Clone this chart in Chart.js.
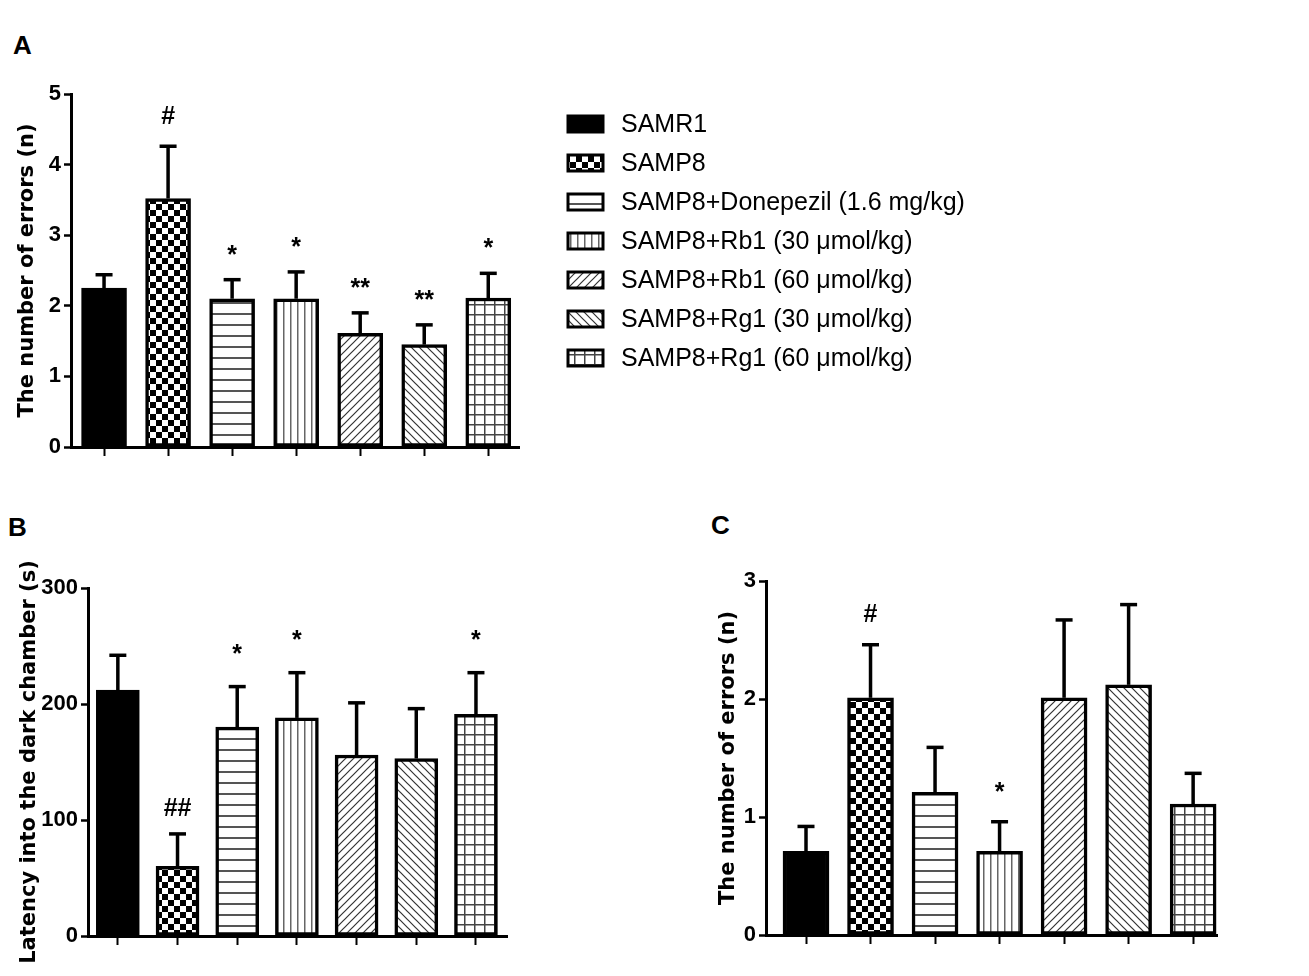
<!DOCTYPE html>
<html><head><meta charset="utf-8">
<script src="https://cdn.jsdelivr.net/npm/chart.js@4.4.0/dist/chart.umd.min.js"></script>
<style>
html,body{margin:0;padding:0;background:#fff;width:1309px;height:976px;overflow:hidden;}
canvas{position:absolute;}
.lbl{position:absolute;font:bold 26px "Liberation Sans",Arial,sans-serif;color:#000;line-height:26px;}
</style></head><body>
<div class="lbl" style="left:13px;top:32px">A</div>
<div class="lbl" style="left:8px;top:514px">B</div>
<div class="lbl" style="left:711px;top:512px">C</div>
<canvas id="cA" width="1000" height="480" style="left:0;top:0"></canvas>
<canvas id="cB" width="560" height="496" style="left:0;top:480px"></canvas>
<canvas id="cC" width="609" height="496" style="left:700px;top:480px"></canvas>
<script>
// ---- data ----
const groups = ['SAMR1','SAMP8','SAMP8+Donepezil (1.6 mg/kg)','SAMP8+Rb1 (30 μmol/kg)','SAMP8+Rb1 (60 μmol/kg)','SAMP8+Rg1 (30 μmol/kg)','SAMP8+Rg1 (60 μmol/kg)'];
const meansA = [2.25, 3.52, 2.10, 2.10, 1.61, 1.45, 2.11];
const semsA  = [0.19, 0.74, 0.27, 0.38, 0.29, 0.28, 0.35];
const marksA = ['', '#', '*', '*', '**', '**', '*'];
const ticksA = [0, 1, 2, 3, 4, 5];
const titleA = 'The number of errors (n)';

const meansB = [212, 60, 180, 188, 156, 153, 191];
const semsB  = [30, 28, 35, 39, 45, 43, 36];
const marksB = ['', '##', '*', '*', '', '', '*'];
const ticksB = [0, 100, 200, 300];
const titleB = 'Latency into the dark chamber (s)';

const meansC = [0.71, 2.01, 1.21, 0.71, 2.01, 2.12, 1.11];
const semsC  = [0.21, 0.45, 0.38, 0.25, 0.66, 0.68, 0.26];
const marksC = ['', '#', '', '*', '', '', ''];
const ticksC = [0, 1, 2, 3];
const titleC = 'The number of errors (n)';

// ---- tick font: condensed bold if available ----
const probe = document.createElement('canvas').getContext('2d');
probe.font = 'bold 25px "Liberation Sans Narrow", monospace';
const wNarrow = probe.measureText('300').width;
probe.font = 'bold 25px monospace';
const hasNarrow = Math.abs(wNarrow - probe.measureText('300').width) > 0.5;
const tickFont = hasNarrow
  ? { family: '"Liberation Sans Narrow", "Liberation Sans", Arial, sans-serif', weight: 'bold', size: 25 }
  : { family: '"Liberation Sans", Arial, sans-serif', weight: 'bold', size: 22 };

// ---- patterns ----
function makePattern(type){
  const c = document.createElement('canvas');
  let w = 10, h = 10;
  if (type === 'checker') { w = 12; h = 12; }
  if (type === 'h') { w = 10; h = 11; }
  if (type === 'v') { w = 7; h = 10; }
  if (type === 'f' || type === 'b') { w = 8; h = 8; }
  c.width = w; c.height = h;
  const g = c.getContext('2d');
  g.fillStyle = '#fff'; g.fillRect(0,0,w,h);
  g.fillStyle = '#000'; g.strokeStyle = '#333';
  if (type === 'checker') { g.fillRect(0,0,6,6); g.fillRect(6,6,6,6); }
  if (type === 'h') { g.fillStyle = '#555'; g.fillRect(0,5,w,2); }
  if (type === 'v') { g.fillStyle = '#666'; g.fillRect(3,0,1.5,h); }
  if (type === 'f') { g.lineWidth = 1.2; g.beginPath(); g.moveTo(0,8); g.lineTo(8,0); g.moveTo(-1,1); g.lineTo(1,-1); g.moveTo(7,9); g.lineTo(9,7); g.stroke(); }
  if (type === 'b') { g.lineWidth = 1.2; g.beginPath(); g.moveTo(0,0); g.lineTo(8,8); g.moveTo(-1,7); g.lineTo(1,9); g.moveTo(7,-1); g.lineTo(9,1); g.stroke(); }
  if (type === 'grid') { g.fillStyle = '#444'; g.fillRect(0,4,w,1.5); g.fillRect(4,0,1.5,h); }
  return g.createPattern(c, 'repeat');
}
const fills = ['#000', makePattern('checker'), makePattern('h'), makePattern('v'), makePattern('f'), makePattern('b'), makePattern('grid')];

// ---- plugins ----
const errPlugin = {
  id: 'errs',
  afterDatasetsDraw(chart, args, opts){
    const ctx = chart.ctx, ys = chart.scales.y, meta = chart.getDatasetMeta(0);
    ctx.save();
    ctx.strokeStyle = '#000'; ctx.lineWidth = 3.5; ctx.lineCap = 'butt';
    meta.data.forEach((bar, i) => {
      const yBar = ys.getPixelForValue(opts.means[i]);
      const yTop = ys.getPixelForValue(opts.means[i] + opts.sems[i]);
      ctx.beginPath(); ctx.moveTo(bar.x, yBar); ctx.lineTo(bar.x, yTop); ctx.stroke();
      ctx.beginPath(); ctx.moveTo(bar.x - 8.5, yTop); ctx.lineTo(bar.x + 8.5, yTop); ctx.stroke();
      const m = opts.marks[i];
      if (m) {
        ctx.font = 'bold 25px "Liberation Sans", Arial, sans-serif';
        ctx.textAlign = 'center'; ctx.textBaseline = 'alphabetic'; ctx.fillStyle = '#000';
        const mt = ctx.measureText(m);
        const gap = m[0] === '#' ? opts.gapHash : opts.gapStar;
        ctx.fillText(m, bar.x, yTop - gap - mt.actualBoundingBoxDescent);
      }
    });
    ctx.restore();
  }
};
const legendPlugin = {
  id: 'sideLegend',
  afterDraw(chart){
    const ctx = chart.ctx;
    ctx.save();
    groups.forEach((g, i) => {
      const y = 124 + 39 * i;
      ctx.fillStyle = fills[i]; ctx.fillRect(568, y - 8, 35, 16);
      ctx.lineWidth = 3; ctx.strokeStyle = '#000'; ctx.strokeRect(568, y - 8, 35, 16);
      ctx.fillStyle = '#000'; ctx.font = '25px "Liberation Sans", Arial, sans-serif';
      ctx.textAlign = 'left'; ctx.textBaseline = 'middle';
      ctx.fillText(g, 621, y + 1);
    });
    ctx.restore();
  }
};

function makeChart(id, means, sems, marks, yTicks, title, geo, extra){
  return new Chart(document.getElementById(id), {
    type: 'bar',
    data: { labels: groups, datasets: [{
      data: means.map((v, i) => ({ x: i, y: v })),
      backgroundColor: fills, borderColor: '#000', borderWidth: 3.5, borderSkipped: false,
      barThickness: geo.bar
    }]},
    options: {
      responsive: false, animation: false,
      layout: { padding: { left: 0, top: geo.top, right: geo.right, bottom: geo.bottom } },
      plugins: { legend: { display: false }, tooltip: { enabled: false },
        errs: { means: means, sems: sems, marks: marks, gapHash: geo.gh, gapStar: geo.gs } },
      scales: {
        x: { type: 'linear', min: geo.xmin, max: geo.xmax, offset: false,
          afterBuildTicks: s => { s.ticks = groups.map((g, i) => ({ value: i })); },
          afterFit: s => { s.height = 20; },
          ticks: { display: false },
          grid: { display: true, drawOnChartArea: false, drawTicks: true, tickLength: 9, tickWidth: 2, tickColor: '#000', offset: false },
          border: { display: true, color: '#000', width: 3 } },
        y: { type: 'linear', min: 0, max: yTicks[yTicks.length - 1],
          afterBuildTicks: s => { s.ticks = yTicks.map(v => ({ value: v })); },
          afterFit: s => { s.width = geo.left; },
          ticks: { color: '#000', font: tickFont, padding: 3 },
          grid: { drawOnChartArea: false, drawTicks: true, tickLength: 7, tickWidth: 2.5, tickColor: '#000' },
          border: { display: true, color: '#000', width: 3 },
          title: { display: true, text: title, color: '#000',
            font: { family: '"DejaVu Sans", Verdana, sans-serif', weight: 'bold', size: 21 },
            padding: { top: geo.tpad, bottom: 0 } } }
      }
    },
    plugins: extra ? [errPlugin, extra] : [errPlugin]
  });
}

makeChart('cA', meansA, semsA, marksA, ticksA, titleA,
  { left: 71, top: 94, right: 481, bottom: 13, xmin: -0.516, xmax: 6.48, bar: 45, tpad: 15, gh: 22, gs: 25 }, legendPlugin);
makeChart('cB', meansB, semsB, marksB, ticksB, titleB,
  { left: 88, top: 108, right: 53, bottom: 20, xmin: -0.5, xmax: 6.52, bar: 43, tpad: 17, gh: 18, gs: 33 });
makeChart('cC', meansC, semsC, marksC, ticksC, titleC,
  { left: 66, top: 101, right: 92, bottom: 21, xmin: -0.62, xmax: 6.37, bar: 46, tpad: 16, gh: 23, gs: 30 });
</script>
</body></html>
